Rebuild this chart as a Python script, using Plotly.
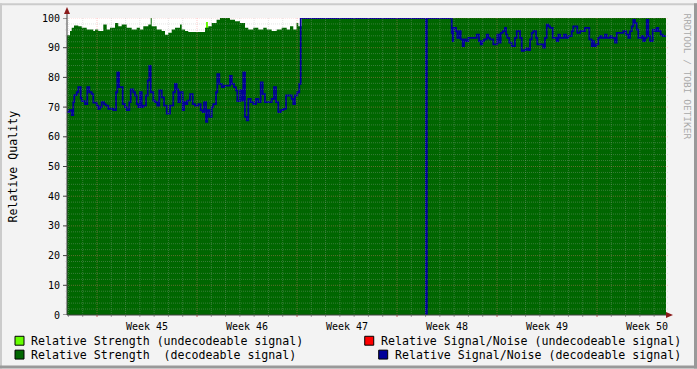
import plotly.graph_objects as go

# ---------------- data (time axis in days from the left edge of the chart) ----------------
week_labels = ["Week 45", "Week 46", "Week 47", "Week 48", "Week 49", "Week 50"]
first_week_boundary = 2.1       # day at which week 45 begins
t_end = 41.93                   # right edge of the time axis (days)

# Relative Strength (decodeable signal): step start times and values
strength_t = [0, 0.21, 0.33, 0.49, 0.79, 1.03, 1.38, 1.84, 1.96, 2.19, 2.54, 2.78, 3.01, 3.36,
              3.59, 3.83, 4.18, 4.53, 4.88, 5.11, 5.34, 5.69, 5.86, 5.93, 6.28, 6.63, 6.86, 7.09,
              7.33, 7.56, 7.91, 8.03, 8.26, 8.49, 9.66, 9.89, 10.13, 10.47, 10.71, 11.41, 11.76,
              12.11, 12.46, 12.69, 13.04, 13.39, 13.74, 13.98, 14.33, 14.68, 15.03, 15.38, 15.61,
              15.84, 16.07, 16.19, 16.43]
strength_v = [94.2, 95.6, 96.7, 97.5, 97.2, 96.7, 96.1, 95.6, 96.1, 95.6, 97.8, 96.1, 96.7, 98.3,
              97.2, 97.8, 96.7, 96.1, 96.7, 96.1, 97.2, 97.8, 100, 97.2, 96.1, 95.6, 94.4, 95.0,
              96.1, 96.7, 97.8, 96.1, 95.6, 95.3, 96.7, 97.2, 98.3, 99.4, 100, 99.4, 98.9,
              98.3, 96.7, 96.1, 96.7, 96.1, 96.7, 96.1, 95.6, 96.1, 96.7, 96.1, 97.2,
              96.1, 98.3, 97.2, 100]

# Relative Strength (undecodeable signal): a single short burst
undec_t = [9.77]
undec_low = [94.5]
undec_high = [98.6]

# Relative Signal/Noise (decodeable signal): step start times and values
snr_t = [0, 0.16, 0.33, 0.44, 0.51, 0.68, 0.79, 0.96, 1.03, 1.26, 1.42, 1.56, 1.73, 1.84, 2.08,
         2.19, 2.31, 2.43, 2.59, 2.71, 2.89, 3.01, 3.24, 3.43, 3.52, 3.64, 3.90, 4.06, 4.18, 4.36,
         4.46, 4.64, 4.76, 4.88, 4.99, 5.11, 5.23, 5.34, 5.53, 5.65, 5.76, 5.86, 6.04, 6.16, 6.32,
         6.46, 6.63, 6.79, 6.98, 7.21, 7.44, 7.56, 7.68, 7.79, 7.91, 8.10, 8.19, 8.33, 8.42, 8.61,
         8.80, 8.96, 9.19, 9.36, 9.50, 9.59, 9.73, 9.82, 9.96, 10.13, 10.24, 10.43, 10.52, 10.66,
         10.83, 10.99, 11.41, 11.53, 11.69, 11.83, 11.92, 12.11, 12.25, 12.34, 12.46, 12.58, 12.69,
         12.86, 13.04, 13.23, 13.39, 13.56, 13.70, 13.86, 14.33, 14.49, 14.63, 14.79, 14.96, 15.14,
         15.33, 15.73, 15.84, 15.96, 16.12, 16.26, 16.36,
         25.13, 25.19,
         26.93, 27.00, 27.04, 27.23, 27.32, 27.46, 27.56, 27.70, 27.79, 27.93, 28.09, 28.68, 28.84,
         28.96, 29.07, 29.19, 29.38, 29.49, 29.61, 29.84, 30.12, 30.26, 30.36, 30.50, 30.66, 30.73,
         30.82, 30.96, 31.13, 31.36, 31.48, 31.71, 31.83, 31.99, 32.13, 32.29, 32.41, 32.53, 32.64,
         32.83, 32.92, 33.34, 33.46, 33.58, 33.69, 33.81, 34.00, 34.28, 34.39, 34.51, 34.79, 34.93,
         35.09, 35.33, 35.44, 35.72, 35.91, 36.26, 36.56, 36.73, 36.80, 36.89, 37.03, 37.19, 37.31,
         37.43, 37.66, 37.78, 38.01, 38.13, 38.36, 38.48, 38.94, 39.13, 39.29, 39.41, 39.53, 39.64,
         39.76, 39.88, 39.99, 40.23, 40.34, 40.46, 40.58, 40.69, 40.81, 41.00, 41.16, 41.28, 41.39,
         41.56, 41.70]
snr_v = [68.3, 69.0, 67.3, 71.7, 74.0, 75.0, 76.7, 73.0, 72.0, 71.0, 76.7, 75.0, 74.4, 71.5, 70.5,
         69.4, 70.0, 71.7, 71.0, 70.5, 69.4, 69.5, 69.0, 75.0, 81.7, 76.7, 71.0, 70.0, 69.0, 71.7,
         76.0, 75.0, 73.9, 71.0, 70.0, 75.0, 70.0, 70.5, 73.9, 79.0, 83.9, 75.0, 72.2, 71.7, 70.5,
         75.6, 73.3, 70.5, 67.8, 70.5, 75.0, 77.8, 76.0, 71.7, 75.0, 69.0, 71.7, 71.0, 72.2, 74.4,
         71.0, 70.5, 71.0, 68.9, 68.3, 71.7, 65.0, 69.0, 66.7, 70.0, 71.0, 75.0, 81.1, 77.8,
         76.7, 77.2, 80.5, 77.8, 76.7, 75.6, 72.0, 75.6, 72.2, 81.7, 66.7, 65.5, 72.8,
         71.7, 71.0, 72.8, 71.7, 78.3, 74.4, 71.7, 72.8, 76.7, 71.7, 68.3, 69.0, 69.4,
         73.9, 72.8, 71.0, 73.9, 75.0, 77.8, 100,
         0, 100,
         95.0, 92.2, 96.7, 95.6, 93.3, 95.6, 92.8, 90.5, 92.8, 92.2, 93.3, 94.4, 92.2,
         91.1, 92.2, 92.8, 94.4, 93.3, 92.8, 91.1, 94.4, 91.7, 95.0, 95.6, 96.7, 94.4,
         93.3, 91.7, 90.5, 93.3, 95.6, 93.3, 88.9, 89.2, 89.8, 89.2, 92.8, 95.0, 95.6,
         93.3, 91.1, 90.0, 93.3, 97.8, 97.2, 96.7, 93.3, 92.2, 94.4, 93.3, 94.4, 93.3,
         93.9, 95.6, 97.2, 95.0, 95.6, 96.7, 92.8, 90.5, 92.2, 90.5, 91.1, 93.3, 93.9,
         93.3, 94.4, 93.3, 93.9, 93.3, 91.7, 95.0, 95.6, 94.4, 93.3, 95.6, 97.2, 99.4,
         98.3, 96.1, 93.3, 93.9, 92.2, 93.3, 99.4, 93.9, 92.2, 96.1, 95.6, 96.7, 95.6,
         94.4, 93.9]

y_ticks = [0, 10, 20, 30, 40, 50, 60, 70, 80, 90, 100]

legend_items = [
    ("Relative Strength (undecodeable signal)", "#66FF00", "left"),
    ("Relative Signal/Noise (undecodeable signal)", "#FF0000", "right"),
    ("Relative Strength \u00a0(decodeable signal)", "#006600", "left"),
    ("Relative Signal/Noise (decodeable signal)", "#000099", "right"),
]

# ---------------- layout geometry ----------------
W, H = 697, 369
L, R, T, B = 67, 31, 15, 54
PW, PH = W - L - R, H - T - B
FONT = "DejaVu Sans Mono, monospace"
LEG_SIZE = 11.6
CHAR_W = 0.602 * LEG_SIZE


def px(xp):
    return (xp - L) / PW


def py(yp):
    return (T + PH - yp) / PH


fig = go.Figure()

# decodeable strength (filled step area)
fig.add_trace(go.Scatter(
    x=strength_t + [t_end], y=strength_v + [strength_v[-1]],
    mode="lines", line=dict(shape="hv", width=0, color="#006600"),
    fill="tozeroy", fillcolor="#006600", hoverinfo="skip", showlegend=False))

# undecodeable strength burst
fig.add_trace(go.Bar(
    x=undec_t, y=[h - l for h, l in zip(undec_high, undec_low)], base=undec_low,
    width=0.07, marker=dict(color="#66FF00", line=dict(width=0)), showlegend=False))

# signal / noise line
fig.add_trace(go.Scatter(
    x=snr_t + [t_end], y=snr_v + [snr_v[-1]],
    mode="lines", line=dict(shape="hv", width=1.8, color="#000099"),
    hoverinfo="skip", showlegend=False))

GRID_MINOR = "rgba(175,175,175,0.32)"
GRID_MAJOR = "rgba(255,120,120,0.38)"

shapes = []
# horizontal grid (minor every 2, major every 10)
for v in range(2, 101, 2):
    major = v % 10 == 0
    shapes.append(dict(type="line", xref="paper", yref="y", x0=px(L - 2), x1=px(L + PW + 2),
                       y0=v, y1=v, layer="above",
                       line=dict(color=GRID_MAJOR if major else GRID_MINOR,
                                 width=1, dash="1px,1px")))
# vertical grid (minor every day, major every week)
for k in range(-2, 41):
    d = first_week_boundary + k
    if d <= 0.01 or d >= t_end:
        continue
    major = k % 7 == 0
    shapes.append(dict(type="line", xref="x", yref="paper", x0=d, x1=d, y0=0, y1=1,
                       layer="above", line=dict(color=GRID_MAJOR if major else GRID_MINOR,
                                                width=1, dash="1px,1px")))
    shapes.append(dict(type="line", xref="x", yref="paper", x0=d, x1=d, y0=py(T + PH + 2),
                       y1=0, layer="above",
                       line=dict(color="#D06060" if major else "#A0A0A0", width=1)))

# y-axis tick marks
for v in y_ticks:
    shapes.append(dict(type="line", xref="paper", yref="y", x0=px(L - 4), x1=px(L), y0=v, y1=v,
                       layer="above", line=dict(color="#404040", width=1)))

# axis lines
shapes.append(dict(type="line", xref="paper", yref="paper", x0=0, x1=px(L + PW + 2), y0=0, y1=0,
                   layer="above", line=dict(color="#404040", width=1)))
shapes.append(dict(type="line", xref="paper", yref="paper", x0=0, x1=0, y0=0, y1=py(T - 4),
                   layer="above", line=dict(color="#404040", width=1)))
# arrows
ax_x, ax_y = L + PW, T + PH
shapes.append(dict(type="path", xref="paper", yref="paper", layer="above",
                   path=f"M {px(ax_x)},{py(ax_y - 3)} L {px(ax_x + 7)},{py(ax_y)} L {px(ax_x)},{py(ax_y + 3)} Z",
                   fillcolor="#8B1A1A", line=dict(width=0)))
shapes.append(dict(type="path", xref="paper", yref="paper", layer="above",
                   path=f"M {px(L - 3)},{py(T - 4)} L {px(L)},{py(T - 11)} L {px(L + 3)},{py(T - 4)} Z",
                   fillcolor="#8B1A1A", line=dict(width=0)))

# outer frame
shapes.append(dict(type="line", xref="paper", yref="paper", x0=px(0), x1=px(W), y0=py(1), y1=py(1),
                   line=dict(color="#CBCBCB", width=2)))
shapes.append(dict(type="line", xref="paper", yref="paper", x0=px(1), x1=px(1), y0=py(0), y1=py(H),
                   line=dict(color="#CBCBCB", width=2)))
shapes.append(dict(type="line", xref="paper", yref="paper", x0=px(0), x1=px(W), y0=py(H - 1.5), y1=py(H - 1.5),
                   line=dict(color="#999999", width=3)))
shapes.append(dict(type="line", xref="paper", yref="paper", x0=px(W - 1.5), x1=px(W - 1.5), y0=py(0), y1=py(H),
                   line=dict(color="#999999", width=3)))

annotations = []
# legend (all left-anchored, right column aligned to end at x=680)
rows_y = [341, 355]
for i, (label, color, side) in enumerate(legend_items):
    yy = rows_y[i // 2]
    if side == "left":
        tx = 30
    else:
        tx = 680 - len(label) * CHAR_W
    sx = tx - 15
    annotations.append(dict(xref="paper", yref="paper", x=px(tx - 1), y=py(yy), text=label,
                            showarrow=False, xanchor="left", yanchor="middle",
                            font=dict(family=FONT, size=LEG_SIZE, color="#000000")))
    shapes.append(dict(type="rect", xref="paper", yref="paper", x0=px(sx), x1=px(sx + 9),
                       y0=py(yy - 4.5), y1=py(yy + 4.5), fillcolor=color,
                       line=dict(color="#000000", width=1)))

# y-axis title
annotations.append(dict(xref="paper", yref="paper", x=px(12), y=py(165), text="Relative Quality",
                        showarrow=False, textangle=-90, xanchor="center", yanchor="middle",
                        font=dict(family=FONT, size=LEG_SIZE, color="#000000")))
# watermark
annotations.append(dict(xref="paper", yref="paper", x=px(688), y=py(74), text="RRDTOOL / TOBI OETIKER",
                        showarrow=False, textangle=90, xanchor="center", yanchor="middle",
                        font=dict(family=FONT, size=9.5, color="#A8A8A8")))

week_centers = [first_week_boundary + 3.5 + 7 * i for i in range(len(week_labels))]

fig.update_layout(
    width=W, height=H,
    margin=dict(l=L, r=R, t=T, b=B, pad=0),
    paper_bgcolor="#F3F3F3", plot_bgcolor="#FFFFFF",
    showlegend=False, bargap=0,
    xaxis=dict(range=[0, t_end], showgrid=False, zeroline=False, showline=False,
               tickvals=week_centers, ticktext=week_labels, ticks="outside", ticklen=2,
               tickcolor="rgba(0,0,0,0)",
               tickfont=dict(family=FONT, size=10, color="#000000"), fixedrange=True),
    yaxis=dict(range=[0, 100], showgrid=False, zeroline=False, showline=False,
               tickvals=y_ticks, ticktext=[str(v) for v in y_ticks], ticks="outside", ticklen=4,
               tickcolor="rgba(0,0,0,0)",
               tickfont=dict(family=FONT, size=10, color="#000000"), fixedrange=True),
    shapes=shapes, annotations=annotations,
)

fig.write_html("out.html")
